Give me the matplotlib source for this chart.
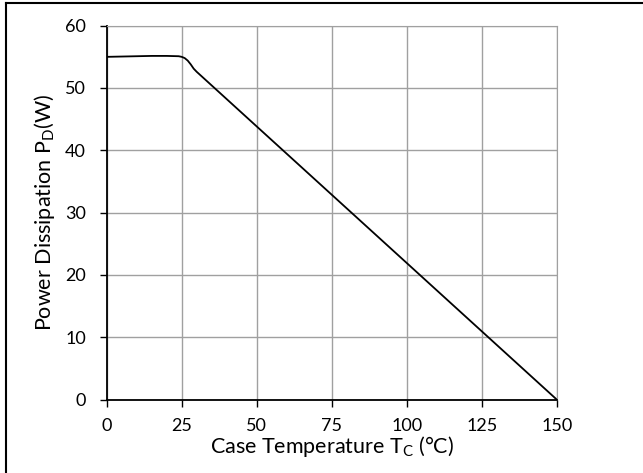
import matplotlib
matplotlib.use('Agg')
import matplotlib.pyplot as plt
from matplotlib.lines import Line2D

# data
temp = [0, 5, 10, 15, 20, 24, 25, 26, 27, 28, 29, 30, 150]
power = [55.0, 55.05, 55.1, 55.15, 55.15, 55.1, 55.0, 54.8, 54.4, 53.8, 53.1, 52.6, 0.0]
xticks = [0, 25, 50, 75, 100, 125, 150]
yticks = [0, 10, 20, 30, 40, 50, 60]

plt.rcParams['font.family'] = ['Lato', 'DejaVu Sans']
plt.rcParams['mathtext.fontset'] = 'custom'
plt.rcParams['mathtext.rm'] = 'Lato'

fig = plt.figure(figsize=(6.43, 4.73), dpi=100)
ax = fig.add_axes([106.7 / 643, 1 - 399.5 / 473, 450 / 643, 373.8 / 473])

ax.plot(temp, power, color='black', lw=1.3)
ax.set_xlim(0, 150)
ax.set_ylim(0, 60)
ax.set_xticks(xticks)
ax.set_yticks(yticks)
ax.grid(True, color='#a0a0a0', lw=1)
ax.set_axisbelow(True)
for s in ['top', 'right']:
    ax.spines[s].set_color('#a0a0a0')
for s in ['left', 'bottom']:
    ax.spines[s].set_color('black')
    ax.spines[s].set_linewidth(1.3)
ax.tick_params(direction='out', length=5, width=1, labelsize=13)
ax.tick_params(axis='y', pad=10)
ax.tick_params(axis='x', pad=8)

ax.set_xlabel('Case Temperature T$_\\mathrm{C}$ (°C)', fontsize=15.5, labelpad=0)
ax.set_ylabel('Power Dissipation P$_\\mathrm{D}$(W)', fontsize=15.5, labelpad=6)

# outer frame lines
fig.add_artist(Line2D([6 / 643, 6 / 643], [0, 1 - 3 / 473], transform=fig.transFigure, color='black', lw=1.5))
fig.add_artist(Line2D([6 / 643, 1], [1 - 3 / 473, 1 - 3 / 473], transform=fig.transFigure, color='black', lw=1.5))

fig.savefig('out.png', dpi=100)
